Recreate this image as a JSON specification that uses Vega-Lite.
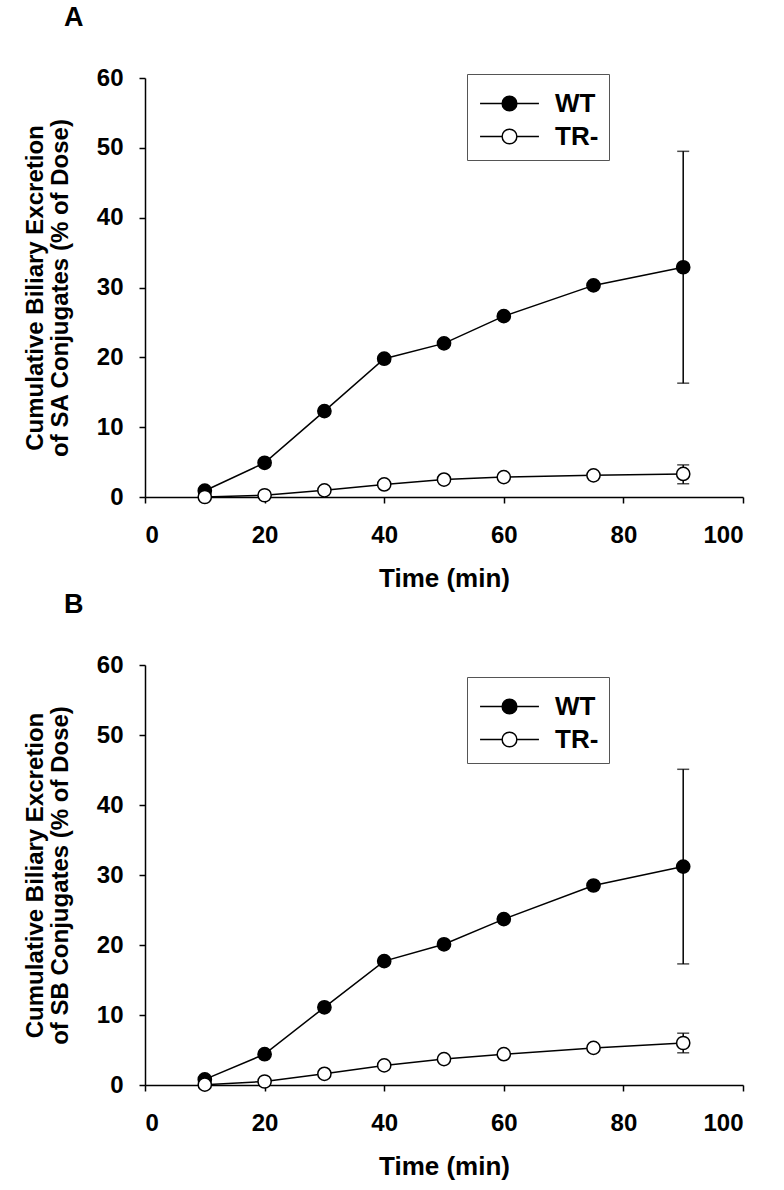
{
  "$schema": "https://vega.github.io/schema/vega-lite/v6.json",
  "background": "white",
  "padding": {"left": 23, "top": 4, "right": 10, "bottom": 5},
  "config": {
    "font": "Liberation Sans",
    "view": {"stroke": null},
    "axis": {"domainColor": "black", "domainWidth": 1.5, "tickColor": "black", "tickWidth": 1.5, "tickSize": 6, "labelFont": "Liberation Sans", "labelFontWeight": "bold", "labelFontSize": 24, "labelColor": "black", "titleFont": "Liberation Sans", "titleFontWeight": "bold", "titleColor": "black", "grid": false},
    "axisX": {"labelPadding": 20, "titlePadding": 18, "titleFontSize": 26},
    "axisY": {"labelPadding": 16, "titlePadding": 24, "titleFontSize": 24, "titleLineHeight": 25},
    "title": {"anchor": "start", "fontSize": 27, "fontWeight": "bold", "font": "Liberation Sans", "color": "black", "frame": "group"},
    "concat": {"spacing": 0},
    "legend": {"orient": "none", "title": null, "symbolType": "M-1.6,0L-0.4,0M0.4,0L1.6,0M-0.4,0A0.4,0.4,0,1,0,0.4,0A0.4,0.4,0,1,0,-0.4,0Z", "symbolSize": 1354, "symbolOffset": 13, "symbolStrokeColor": "black", "symbolStrokeWidth": 1.5, "labelFontSize": 26, "labelFontWeight": "bold", "labelFont": "Liberation Sans", "labelColor": "black", "labelOffset": 26, "strokeColor": "#555555", "fillColor": "white", "padding": 10, "rowPadding": -5}
  },
  "datasets": {
    "A": [
      {"group": "WT", "time": 10, "value": 0.9},
      {"group": "WT", "time": 20, "value": 4.9},
      {"group": "WT", "time": 30, "value": 12.3},
      {"group": "WT", "time": 40, "value": 19.8},
      {"group": "WT", "time": 50, "value": 22.0},
      {"group": "WT", "time": 60, "value": 25.9},
      {"group": "WT", "time": 75, "value": 30.3},
      {"group": "WT", "time": 90, "value": 32.9, "lo": 16.3, "hi": 49.5},
      {"group": "TR-", "time": 10, "value": 0.0},
      {"group": "TR-", "time": 20, "value": 0.25},
      {"group": "TR-", "time": 30, "value": 0.95},
      {"group": "TR-", "time": 40, "value": 1.8},
      {"group": "TR-", "time": 50, "value": 2.5},
      {"group": "TR-", "time": 60, "value": 2.85},
      {"group": "TR-", "time": 75, "value": 3.1},
      {"group": "TR-", "time": 90, "value": 3.3, "lo": 1.9, "hi": 4.6}
    ],
    "B": [
      {"group": "WT", "time": 10, "value": 0.8},
      {"group": "WT", "time": 20, "value": 4.4},
      {"group": "WT", "time": 30, "value": 11.1},
      {"group": "WT", "time": 40, "value": 17.7},
      {"group": "WT", "time": 50, "value": 20.1},
      {"group": "WT", "time": 60, "value": 23.7},
      {"group": "WT", "time": 75, "value": 28.5},
      {"group": "WT", "time": 90, "value": 31.2, "lo": 17.3, "hi": 45.1},
      {"group": "TR-", "time": 10, "value": 0.05},
      {"group": "TR-", "time": 20, "value": 0.5},
      {"group": "TR-", "time": 30, "value": 1.6},
      {"group": "TR-", "time": 40, "value": 2.8},
      {"group": "TR-", "time": 50, "value": 3.7},
      {"group": "TR-", "time": 60, "value": 4.4},
      {"group": "TR-", "time": 75, "value": 5.3},
      {"group": "TR-", "time": 90, "value": 6.0, "lo": 4.6, "hi": 7.4}
    ]
  },
  "vconcat": [
    {
      "title": {"text": "A", "dx": -81, "offset": 34},
      "width": 598,
      "height": 419,
      "data": {"name": "A"},
      "encoding": {
        "x": {"field": "time", "type": "quantitative", "scale": {"domain": [0, 100], "nice": false}, "axis": {"title": "Time (min)", "values": [0, 20, 40, 60, 80, 100]}}
      },
      "layer": [
        {
          "transform": [{"filter": "isValid(datum.lo)"}],
          "mark": {"type": "errorbar", "ticks": {"size": 12, "thickness": 1.5, "color": "black"}, "rule": {"strokeWidth": 1.5, "color": "black"}},
          "encoding": {
            "y": {"field": "lo", "type": "quantitative", "scale": {"domain": [0, 60], "nice": false}, "axis": {"title": ["Cumulative Biliary Excretion", "of SA Conjugates (% of Dose)"], "values": [0, 10, 20, 30, 40, 50, 60]}},
            "y2": {"field": "hi"}
          }
        },
        {
          "mark": {"type": "line", "color": "black", "strokeWidth": 1.5},
          "encoding": {
            "y": {"field": "value", "type": "quantitative", "scale": {"domain": [0, 60], "nice": false}, "axis": {"title": ["Cumulative Biliary Excretion", "of SA Conjugates (% of Dose)"], "values": [0, 10, 20, 30, 40, 50, 60]}},
            "detail": {"field": "group", "type": "nominal"}
          }
        },
        {
          "mark": {"type": "point", "shape": "circle", "filled": true, "size": 175, "stroke": "black", "strokeWidth": 1.5, "opacity": 1},
          "encoding": {
            "y": {"field": "value", "type": "quantitative", "scale": {"domain": [0, 60], "nice": false}, "axis": {"title": ["Cumulative Biliary Excretion", "of SA Conjugates (% of Dose)"], "values": [0, 10, 20, 30, 40, 50, 60]}},
            "fill": {"field": "group", "type": "nominal", "scale": {"domain": ["WT", "TR-"], "range": ["black", "white"]}, "legend": {"legendX": 322, "legendY": -4}}
          }
        }
      ]
    },
    {
      "title": {"text": "B", "dx": -81, "offset": 34},
      "width": 598,
      "height": 420,
      "data": {"name": "B"},
      "encoding": {
        "x": {"field": "time", "type": "quantitative", "scale": {"domain": [0, 100], "nice": false}, "axis": {"title": "Time (min)", "values": [0, 20, 40, 60, 80, 100]}}
      },
      "layer": [
        {
          "transform": [{"filter": "isValid(datum.lo)"}],
          "mark": {"type": "errorbar", "ticks": {"size": 12, "thickness": 1.5, "color": "black"}, "rule": {"strokeWidth": 1.5, "color": "black"}},
          "encoding": {
            "y": {"field": "lo", "type": "quantitative", "scale": {"domain": [0, 60], "nice": false}, "axis": {"title": ["Cumulative Biliary Excretion", "of SB Conjugates (% of Dose)"], "values": [0, 10, 20, 30, 40, 50, 60]}},
            "y2": {"field": "hi"}
          }
        },
        {
          "mark": {"type": "line", "color": "black", "strokeWidth": 1.5},
          "encoding": {
            "y": {"field": "value", "type": "quantitative", "scale": {"domain": [0, 60], "nice": false}, "axis": {"title": ["Cumulative Biliary Excretion", "of SB Conjugates (% of Dose)"], "values": [0, 10, 20, 30, 40, 50, 60]}},
            "detail": {"field": "group", "type": "nominal"}
          }
        },
        {
          "mark": {"type": "point", "shape": "circle", "filled": true, "size": 175, "stroke": "black", "strokeWidth": 1.5, "opacity": 1},
          "encoding": {
            "y": {"field": "value", "type": "quantitative", "scale": {"domain": [0, 60], "nice": false}, "axis": {"title": ["Cumulative Biliary Excretion", "of SB Conjugates (% of Dose)"], "values": [0, 10, 20, 30, 40, 50, 60]}},
            "fill": {"field": "group", "type": "nominal", "scale": {"domain": ["WT", "TR-"], "range": ["black", "white"]}, "legend": {"legendX": 322, "legendY": 12}}
          }
        }
      ]
    }
  ],
  "resolve": {"scale": {"fill": "independent"}, "legend": {"fill": "independent"}}
}
